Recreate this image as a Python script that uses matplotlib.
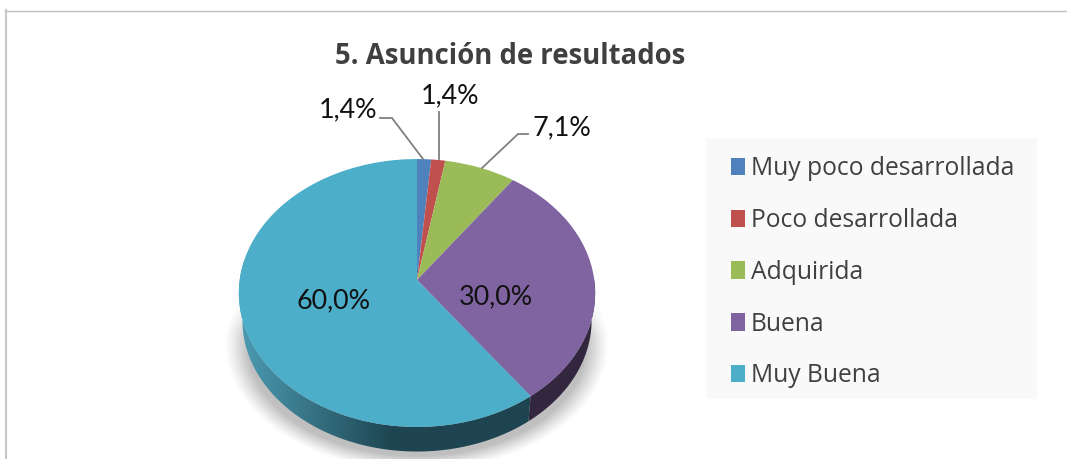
import numpy as np
import matplotlib
matplotlib.use("Agg")
import matplotlib.pyplot as plt
from matplotlib.patches import Patch, PathPatch, Rectangle
from matplotlib.path import Path
from matplotlib.transforms import Transform

# ---- data ----
categories = ["Muy poco desarrollada", "Poco desarrollada", "Adquirida", "Buena", "Muy Buena"]
values = [1.4, 1.4, 7.1, 30.0, 60.0]
colors = ["#4F81BD", "#C0504D", "#9BBB59", "#8064A2", "#4CAEC9"]
title = "5. Asunción de resultados"

# ---- layout (pixel space of the figure) ----
W, H = 1067, 459
CX, CY = 417.0, 280.0
RX, RY, PERSP = 177.3, 132.7, 0.097
DEPTH, SHRINK = 27.5, 0.98


def project(x, y, shrink=1.0, drop=0.0):
    w = 1 + PERSP * y
    return CX + shrink * RX * x / w, CY + drop - shrink * RY * y / w


class Tilt(Transform):
    input_dims = output_dims = 2
    is_separable = False
    has_inverse = False

    def transform_non_affine(self, xy):
        xy = np.asarray(xy, float)
        return np.column_stack(project(xy[:, 0], xy[:, 1]))


fig = plt.figure(figsize=(W / 100, H / 100), dpi=100, facecolor="white")
ax = fig.add_axes([0, 0, 1, 1])

wedges, _ = ax.pie(values, colors=colors, startangle=90, counterclock=False, radius=1.0)
tilt = Tilt() + ax.transData
for w in wedges:
    w.set_transform(tilt)
    w.set_zorder(5)
    w.set_linewidth(0)
ax.set_aspect("auto")
ax.set_xlim(0, W)
ax.set_ylim(H, 0)
ax.axis("off")

# soft shadow under the disc
yy, xx = np.mgrid[0:H, 0:W] + 0.5
d = np.hypot((xx - CX) / 192.0, (yy - 345.0) / 126.0)
alpha = np.clip((1 - d) / 0.12, 0, 1) ** 1.2 * 0.5
alpha *= np.clip((yy - 288) / 45.0, 0, 1)
rgba = np.zeros((H, W, 4))
rgba[..., :3] = 0.5
rgba[..., 3] = alpha
ax.imshow(rgba, extent=(0, W, H, 0), aspect="auto", zorder=1.5, interpolation="bilinear")

# side wall, angles derived from the values
fractions = np.array(values) / sum(values)
edges = np.cumsum(np.r_[0, fractions]) * 2 * np.pi


def wall_path(a0, a1):
    t = np.linspace(a0, a1, 200)
    xu, yu = project(np.sin(t), np.cos(t))
    xl, yl = project(np.sin(t[::-1]), np.cos(t[::-1]), SHRINK, DEPTH)
    pts = np.r_[np.c_[xu, yu], np.c_[xl, yl]]
    return Path(np.r_[pts, pts[:1]], closed=True)


purple_wall = PathPatch(wall_path(np.pi / 2, edges[4]), fc="#33263F", ec="none", zorder=3)
ax.add_patch(purple_wall)

teal_wall = PathPatch(wall_path(edges[4], 1.55 * np.pi), fc="none", ec="none", zorder=3)
ax.add_patch(teal_wall)
xs = np.arange(W) + 0.5
f = np.clip((xs - 245) / 150.0, 0, 1)
c0, c1 = np.array([0x4A, 0x98, 0xAE]) / 255, np.array([0x1D, 0x44, 0x50]) / 255
grad = (c0[None, :] * (1 - f[:, None]) + c1[None, :] * f[:, None])[None, :, :]
im = ax.imshow(grad, extent=(0, W, H, 0), aspect="auto", zorder=3)
im.set_clip_path(teal_wall)

# chart frame
ax.add_line(plt.Line2D([6, 6], [10, H], color="#C8C8C8", lw=1.5, zorder=2))
ax.add_line(plt.Line2D([5, W], [10.5, 10.5], color="#C0C0C0", lw=1.0, zorder=2))

# legend panel
ax.add_patch(Rectangle((706, 138), 331, 261, fc="#F9F9F9", ec="none", zorder=1))

# title
ax.text(510.5, 56, title, ha="center", va="center", fontsize=19.85, fontweight="bold",
        family="Open Sans", color="#404040", zorder=8)

# data labels
label_pos = [(348, 110), (450, 96), (562, 128), (496, 297), (334, 301)]
for v, (lx, ly) in zip(values, label_pos):
    ax.text(lx, ly, f"{v:.1f}%".replace(".", ","), ha="center", va="center",
            fontsize=19.4, family="Lato", color="#111111", zorder=8)

# leader lines
leaders = [([380, 392, 423], [118, 118, 159]),
           ([439, 439], [112, 159]),
           ([528, 518, 482], [134, 134, 168])]
for lx, ly in leaders:
    ax.plot(lx, ly, color="#808080", lw=1.3, zorder=6, solid_joinstyle="miter")

ax.set_xlim(0, W)
ax.set_ylim(H, 0)

# legend
handles = [Patch(fc=c, ec="none", label=n) for c, n in zip(colors, categories)]
fs = 17.75
fpx = fs * 100 / 72
leg = fig.legend(handles=handles, loc="upper left", bbox_to_anchor=(731 / W, 1 - 156 / H),
                 frameon=False, prop={"family": "Open Sans", "size": fs},
                 labelcolor="#404040", borderpad=0, borderaxespad=0,
                 handlelength=14 / fpx, handleheight=0.7, handletextpad=6 / fpx,
                 labelspacing=(51.5 - fpx * 1.0) / fpx)

fig.savefig("out.png", dpi=100)
